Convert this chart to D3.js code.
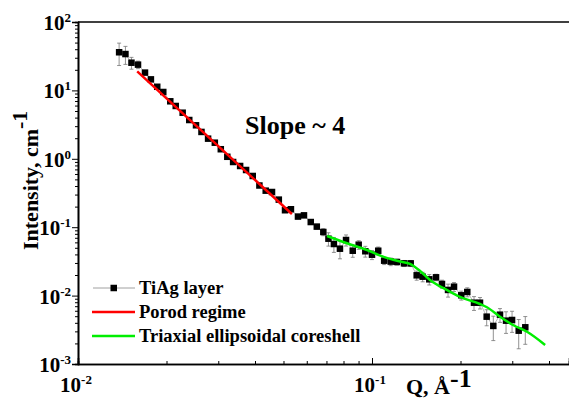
<!DOCTYPE html>
<html>
<head>
<meta charset="utf-8">
<script src="https://cdn.jsdelivr.net/npm/d3@7"></script>
<style>
  body { margin: 0; background: #fff; }
</style>
</head>
<body>
<div id="graph"></div>
<script>
const width = 569
const height = 398
const margin = {left: 78, top: 22, bottom: 364}
const serif = "'Liberation Serif', 'DejaVu Serif', 'Times New Roman', Times, serif"

// TiAg layer data: q (1/A), intensity (1/cm), error
const qVals = [0.0138, 0.0145, 0.0152, 0.0160, 0.0169, 0.0177, 0.0186, 0.0195, 0.0206, 0.0215,
  0.0227, 0.0239, 0.0252, 0.0263, 0.0277, 0.0292, 0.0306, 0.0322, 0.0337, 0.0356,
  0.0373, 0.0393, 0.0414, 0.0435, 0.0457, 0.0482, 0.0506, 0.0530, 0.0560, 0.0587,
  0.0619, 0.0649, 0.0683, 0.0711, 0.0742, 0.0778, 0.0816, 0.0860, 0.0901, 0.0949,
  0.100, 0.105, 0.110, 0.1158, 0.1216, 0.1285, 0.1354, 0.1419, 0.1487, 0.1566,
  0.1651, 0.1730, 0.1814, 0.1901, 0.2012, 0.2109, 0.2223, 0.2330, 0.2455, 0.2586,
  0.2725, 0.2857, 0.2995, 0.3155, 0.3322]
const intensity = [36.1, 34.0, 25.4, 23.8, 18.2, 14.5, 11.3, 9.48, 6.93, 5.92,
  4.72, 3.69, 3.09, 2.47, 1.97, 1.72, 1.38, 1.07, 0.898, 0.785,
  0.686, 0.561, 0.407, 0.342, 0.327, 0.253, 0.177, 0.183, 0.143, 0.149,
  0.119, 0.102, 0.0851, 0.0679, 0.0568, 0.0485, 0.0650, 0.0453, 0.0555, 0.0445,
  0.0396, 0.0453, 0.0324, 0.0314, 0.0310, 0.0296, 0.0296, 0.0198, 0.0189, 0.0173,
  0.0185, 0.0148, 0.0121, 0.0135, 0.0101, 0.0113, 0.00787, 0.00787, 0.00492, 0.00360,
  0.00526, 0.00430, 0.00440, 0.00307, 0.00344]
const errors = [13, 10, 5, 3, 0.7, 0.6, 0.45, 0.4, 0.3, 0.25,
  0.2, 0.15, 0.12, 0.1, 0.08, 0.07, 0.055, 0.045, 0.04, 0.035,
  0.03, 0.025, 0.02, 0.018, 0.017, 0.014, 0.012, 0.01, 0.01, 0.009,
  0.008, 0.008, 0.01, 0.015, 0.014, 0.014, 0.012, 0.009, 0.008, 0.008,
  0.006, 0.006, 0.004, 0.004, 0.003, 0.003, 0.003, 0.003, 0.003, 0.003,
  0.002, 0.002, 0.0026, 0.002, 0.0015, 0.0017, 0.0018, 0.0015, 0.0013, 0.0014,
  0.0012, 0.0015, 0.0015, 0.0014, 0.0015]

// Porod regime fit (slope ~ -4)
const porodQ = [0.0159, 0.0534]
const porodI = [19.0, 0.156]

// Triaxial ellipsoidal coreshell fit
const fitQ = [0.0703, 0.0822, 0.0962, 0.109, 0.1245, 0.1347, 0.1457, 0.1575, 0.1795, 0.1992,
  0.233, 0.246, 0.2725, 0.302, 0.3367, 0.388]
const fitI = [0.0743, 0.0582, 0.0464, 0.0371, 0.0315, 0.0290, 0.0229, 0.0169, 0.0121, 0.00955,
  0.00754, 0.00675, 0.00492, 0.00372, 0.00296, 0.00190]

const xMajor = [0.01, 0.1]
const xMinor = [0.02, 0.03, 0.04, 0.05, 0.06, 0.07, 0.08, 0.09, 0.2, 0.3, 0.4]
const yMajorExp = [-3, -2, -1, 0, 1, 2]
const xMajorExp = [-2, -1]
const legendLabels = ['TiAg layer', 'Porod regime', 'Triaxial ellipsoidal coreshell']

const svg = d3.select('#graph')
  .append('svg')
  .attr('width', width)
  .attr('height', height)

const xScale = d3.scaleLog().domain([0.01, 0.1]).range([margin.left, 372])
const xMax = xScale.invert(width)
xScale.domain([0.01, xMax]).range([margin.left, width])
const yScale = d3.scaleLog().domain([1e-3, 1e2]).range([margin.bottom, margin.top])

const yMinor = []
yMajorExp.slice(0, -1).forEach(e => {
  for (let k = 2; k <= 9; k++) yMinor.push(k * Math.pow(10, e))
})

const label = (sel) => sel.attr('font-family', serif).attr('font-weight', 'bold').attr('fill', '#000')

// top frame line
svg.append('line')
  .attr('x1', margin.left).attr('x2', width)
  .attr('y1', margin.top).attr('y2', margin.top)
  .attr('stroke', '#000').attr('stroke-width', 1.6)

// y axis
svg.append('g')
  .attr('transform', `translate(${margin.left},0)`)
  .call(d3.axisLeft(yScale).tickValues(yMinor).tickSize(3).tickFormat(''))
svg.append('g')
  .attr('transform', `translate(${margin.left},0)`)
  .call(d3.axisLeft(yScale).tickValues(yMajorExp.map(e => Math.pow(10, e))).tickSize(6).tickFormat(''))

// x axis (ticks inward)
svg.append('g')
  .attr('transform', `translate(0,${margin.bottom})`)
  .call(d3.axisBottom(xScale).tickValues(xMinor).tickSize(-3).tickFormat(''))
svg.append('g')
  .attr('transform', `translate(0,${margin.bottom})`)
  .call(d3.axisBottom(xScale).tickValues(xMajor).tickSize(-6).tickFormat(''))

svg.selectAll('.domain').attr('stroke', '#000').attr('stroke-width', 1.6)
svg.selectAll('.tick line').attr('stroke', '#000').attr('stroke-width', 1)

// y tick labels
yMajorExp.forEach(e => {
  const t = svg.append('text')
    .attr('x', 71)
    .attr('y', yScale(Math.pow(10, e)) + 8)
    .attr('text-anchor', 'end')
    .attr('font-size', 21)
    .call(label)
  t.append('tspan').text('10')
  t.append('tspan').attr('dy', -8).attr('font-size', 13).text(e < 0 ? '-' + (-e) : String(e))
})

// x tick labels
xMajorExp.forEach(e => {
  const t = svg.append('text')
    .attr('x', xScale(Math.pow(10, e)) - 2)
    .attr('y', 392)
    .attr('text-anchor', 'middle')
    .attr('font-size', 21)
    .call(label)
  t.append('tspan').text('10')
  t.append('tspan').attr('dy', -8).attr('font-size', 13).text('-' + (-e))
})

// axis titles
const xt = svg.append('text').attr('x', 406).attr('y', 394).attr('font-size', 22).call(label)
xt.append('tspan').text('Q, Å')
xt.append('tspan').attr('dy', -7).attr('font-size', 26).text('-1')

const yt = svg.append('text')
  .attr('transform', 'translate(38,250) rotate(-90)')
  .attr('font-size', 22)
  .call(label)
yt.append('tspan').text('Intensity, cm')
yt.append('tspan').attr('dy', -11).attr('font-size', 22).text('-1')

svg.append('text').attr('x', 245).attr('y', 134).attr('font-size', 26).call(label).text('Slope ~ 4')

// data
const data = qVals.map((q, i) => ({q: q, I: intensity[i], err: errors[i]}))

// connecting line
svg.append('path')
  .datum(data)
  .attr('fill', 'none')
  .attr('stroke', '#888')
  .attr('stroke-width', 0.6)
  .attr('d', d3.line().x(d => xScale(d.q)).y(d => yScale(d.I)))

// error bars
const eb = svg.append('g').attr('stroke', '#777').attr('stroke-width', 0.8)
data.forEach(d => {
  const x = xScale(d.q)
  const y1 = yScale(d.I + d.err)
  const y2 = yScale(Math.max(d.I - d.err, 1e-4))
  eb.append('line').attr('x1', x).attr('x2', x).attr('y1', y1).attr('y2', y2)
  eb.append('line').attr('x1', x - 2).attr('x2', x + 2).attr('y1', y1).attr('y2', y1)
  eb.append('line').attr('x1', x - 2).attr('x2', x + 2).attr('y1', y2).attr('y2', y2)
})

// markers
svg.append('g')
  .selectAll('rect')
  .data(data)
  .join('rect')
  .attr('x', d => xScale(d.q) - 3.25)
  .attr('y', d => yScale(d.I) - 3.25)
  .attr('width', 6.5)
  .attr('height', 6.5)
  .attr('fill', '#000')

// fit lines (drawn over the markers)
const porod = porodQ.map((q, i) => [q, porodI[i]])
svg.append('path')
  .datum(porod)
  .attr('fill', 'none')
  .attr('stroke', '#ff0000')
  .attr('stroke-width', 2.5)
  .attr('d', d3.line().x(d => xScale(d[0])).y(d => yScale(d[1])))

const fit = fitQ.map((q, i) => [q, fitI[i]])
svg.append('path')
  .datum(fit)
  .attr('fill', 'none')
  .attr('stroke', '#00ee00')
  .attr('stroke-width', 2.5)
  .attr('d', d3.line().curve(d3.curveMonotoneX).x(d => xScale(d[0])).y(d => yScale(d[1])))

// legend
const lg = svg.append('g')
lg.append('line').attr('x1', 93).attr('x2', 135).attr('y1', 288).attr('y2', 288).attr('stroke', '#888').attr('stroke-width', 0.8)
lg.append('rect').attr('x', 110.5).attr('y', 284.75).attr('width', 6.5).attr('height', 6.5).attr('fill', '#000')
lg.append('line').attr('x1', 92).attr('x2', 135).attr('y1', 312).attr('y2', 312).attr('stroke', '#ff0000').attr('stroke-width', 2.5)
lg.append('line').attr('x1', 92).attr('x2', 135).attr('y1', 336).attr('y2', 336).attr('stroke', '#00ee00').attr('stroke-width', 2.5)
legendLabels.forEach((s, i) => {
  lg.append('text').attr('x', 139).attr('y', 294 + i * 24).attr('font-size', 18.5).call(label).text(s)
})
</script>
</body>
</html>
